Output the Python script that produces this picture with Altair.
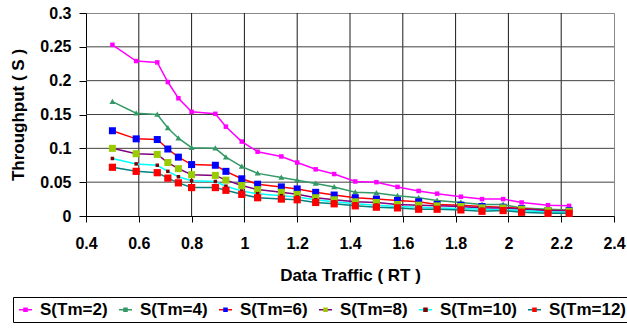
import altair as alt
import pandas as pd

x_vals = [0.5, 0.59, 0.67, 0.71, 0.75, 0.8, 0.89, 0.93, 0.99, 1.05, 1.14, 1.2, 1.27,
          1.34, 1.42, 1.5, 1.58, 1.66, 1.73, 1.82, 1.9, 1.98, 2.05, 2.15, 2.23]

series_names = ["S(Tm=2)", "S(Tm=4)", "S(Tm=6)", "S(Tm=8)", "S(Tm=10)", "S(Tm=12)"]
marker_codes = ["m2", "m4", "m6", "m8", "m10", "m12"]
shape_codes = ["p2", "p4", "p6", "p8", "p10", "p12"]

s_tm2 = [0.253, 0.229, 0.227, 0.198, 0.174, 0.154, 0.151, 0.132, 0.110, 0.095, 0.088, 0.079, 0.069,
         0.062, 0.051, 0.050, 0.043, 0.037, 0.033, 0.0285, 0.025, 0.025, 0.020, 0.016, 0.015]
s_tm4 = [0.169, 0.152, 0.150, 0.130, 0.115, 0.101, 0.100, 0.087, 0.073, 0.063, 0.057, 0.053, 0.048,
         0.043, 0.035, 0.034, 0.030, 0.027, 0.023, 0.020, 0.017, 0.017, 0.012, 0.010, 0.009]
s_tm6 = [0.126, 0.114, 0.113, 0.099, 0.087, 0.076, 0.075, 0.066, 0.055, 0.047, 0.043, 0.040, 0.035,
         0.031, 0.027, 0.025, 0.023, 0.021, 0.017, 0.016, 0.014, 0.013, 0.011, 0.008, 0.008]
s_tm8 = [0.100, 0.092, 0.091, 0.079, 0.070, 0.061, 0.060, 0.053, 0.045, 0.039, 0.035, 0.032, 0.027,
         0.024, 0.021, 0.020, 0.017, 0.016, 0.015, 0.014, 0.012, 0.012, 0.010, 0.008, 0.007]
s_tm10 = [0.085, 0.077, 0.075, 0.066, 0.058, 0.052, 0.051, 0.044, 0.037, 0.033, 0.030, 0.028, 0.024,
          0.021, 0.018, 0.016, 0.014, 0.013, 0.012, 0.011, 0.010, 0.009, 0.008, 0.006, 0.006]
s_tm12 = [0.072, 0.066, 0.064, 0.056, 0.049, 0.042, 0.042, 0.038, 0.032, 0.027, 0.025, 0.024, 0.020,
          0.018, 0.015, 0.013, 0.012, 0.010, 0.010, 0.009, 0.007, 0.008, 0.0055, 0.004, 0.004]

x_ticks = [0.4, 0.6, 0.8, 1.0, 1.2, 1.4, 1.6, 1.8, 2.0, 2.2, 2.4]
y_ticks = [0, 0.05, 0.1, 0.15, 0.2, 0.25, 0.3]

line_colors = ["#FF00FF", "#339966", "#FF0000", "#800080", "#00FFFF", "#008080"]
marker_colors = ["#FF00FF", "#339966", "#0000FF", "#99CC00", "#800000", "#FF0000"]
marker_shapes = [
    "M-0.45,-0.45H0.45V0.45H-0.45Z",
    "M0,-0.6L0.6,0.45L-0.6,0.45Z",
    "M-0.7,-0.7H0.7V0.7H-0.7Z",
    "M-0.7,-0.7H0.7V0.7H-0.7Z",
    "M-0.35,-0.35H0.35V0.35H-0.35Z",
    "M-0.72,-0.72H0.72V0.72H-0.72Z",
]

caption = "Figure 13 Effect of marking time on throughput"

all_series = [s_tm2, s_tm4, s_tm6, s_tm8, s_tm10, s_tm12]
rows = []
for name, mc, sc, vals in zip(series_names, marker_codes, shape_codes, all_series):
    for xv, yv in zip(x_vals, vals):
        rows.append({"x": xv, "y": yv, "series": name, "mk": mc, "sh": sc})
df = pd.DataFrame(rows)

FONT = "Liberation Sans"

x_scale = alt.Scale(domain=[0.4, 2.4], nice=False, zero=False)
y_scale = alt.Scale(domain=[0, 0.3], nice=False, zero=False)

x_axis = alt.Axis(values=x_ticks, format="~g", title="Data Traffic ( RT )",
                  labelPadding=13, tickSize=6, titlePadding=16, labelOverlap=False)
y_axis = alt.Axis(values=y_ticks, format="~g", title="Throughput ( S )",
                  labelPadding=8, tickSize=7, titlePadding=12, labelOverlap=False)

x_enc = alt.X("x:Q", scale=x_scale, axis=x_axis)
y_enc = alt.Y("y:Q", scale=y_scale, axis=y_axis)

base = alt.Chart(df).encode(x=x_enc, y=y_enc)

# grid lines drawn from the tick arrays through the shared scales
vgrid = alt.Chart(pd.DataFrame({"x": x_ticks[1:-1]})).mark_rule(
    color="#1a1a1a", strokeWidth=1).encode(
    x=x_enc, y=alt.Y(datum=0, scale=y_scale, axis=y_axis), y2=alt.datum(0.3))
hgrid = alt.Chart(pd.DataFrame({"y": y_ticks[1:-1]})).mark_rule(
    color="#404040", strokeWidth=1).encode(
    y=y_enc, x=alt.X(datum=0.4, scale=x_scale, axis=x_axis), x2=alt.datum(2.4))

legend_common = dict(
    orient="none", legendX=-73, legendY=284, direction="horizontal", columns=6,
    title=None, labelFont=FONT, labelFontSize=17, labelFontWeight="bold",
    symbolSize=169, symbolStrokeWidth=1.5, labelOffset=6, columnPadding=8,
    padding=4, labelLimit=200,
)

lines = base.mark_line(strokeWidth=1.5).encode(
    stroke=alt.Stroke("series:N", sort=series_names,
                      scale=alt.Scale(domain=series_names, range=line_colors),
                      legend=alt.Legend(symbolType="stroke", strokeColor="black",
                                        labelColor="black", **legend_common)),
)

label_map = "{" + ",".join(f"'{c}':'{n}'" for c, n in zip(marker_codes, series_names)) + "}"

points = base.mark_point(filled=True, size=100, strokeWidth=0, opacity=1).encode(
    fill=alt.Fill("mk:N", sort=marker_codes,
                  scale=alt.Scale(domain=marker_codes, range=marker_colors),
                  legend=alt.Legend(symbolType="M-1,0H1M-0.35,-0.35H0.35V0.35H-0.35Z",
                                    symbolStrokeColor="transparent", symbolOpacity=1,
                                    labelExpr=label_map + "[datum.label]",
                                    labelColor="transparent", **legend_common)),
    shape=alt.Shape("sh:N", scale=alt.Scale(domain=shape_codes, range=marker_shapes),
                    legend=None),
)

cap = alt.Chart(pd.DataFrame({"t": [caption]})).mark_text(
    font="Liberation Serif", fontSize=22, align="left", baseline="alphabetic", color="black"
).encode(text="t:N", x=alt.value(-59), y=alt.value(336))

chart = alt.layer(vgrid, hgrid, lines, points, cap).properties(
    width=528, height=203,
    autosize=alt.AutoSizeParams(type="none"),
    padding={"left": 86, "top": 13, "right": 13, "bottom": 116},
    background="white",
).configure_view(
    stroke="#888888"
).configure_axis(
    grid=False, labelFont=FONT, labelFontSize=16, labelFontWeight="bold",
    labelColor="black", titleFont=FONT, titleFontSize=17, titleFontWeight="bold",
    titleColor="black", domainColor="black", tickColor="black", labelFlush=False,
    labelOverlap=False,
)

chart.save("out.html", embed_options={"renderer": "svg", "actions": False})
